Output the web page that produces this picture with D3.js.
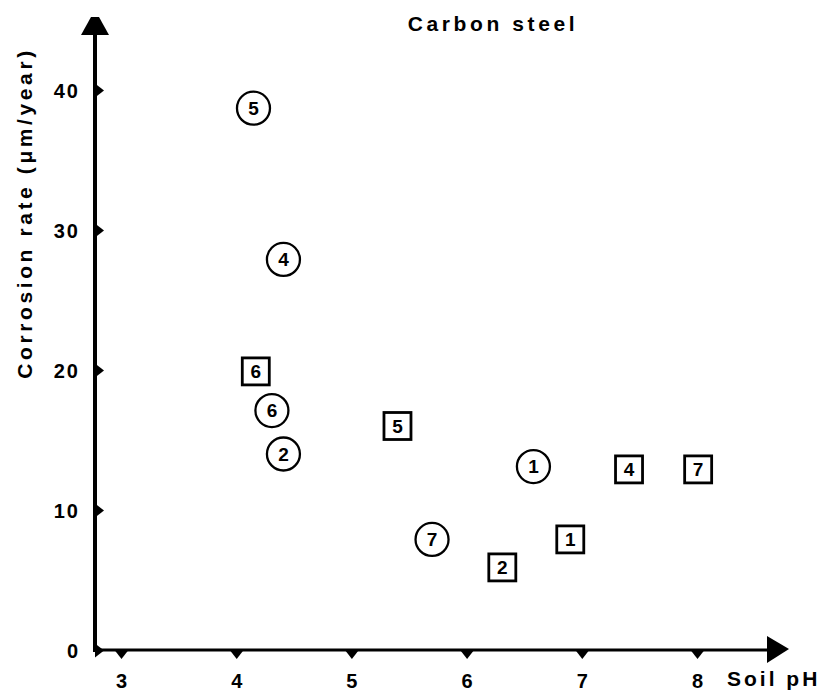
<!DOCTYPE html>
<html><head><meta charset="utf-8">
<script src="https://cdn.jsdelivr.net/npm/d3@7"></script>
<style>body{margin:0;background:#fff}svg{display:block}</style>
</head><body>
<script>
// Data
const circleLabels = ["1","2","4","5","6","7"];
const circlePH     = [6.58, 4.41, 4.41, 4.15, 4.31, 5.70];
const circleRate   = [13.1, 14.0, 27.9, 38.7, 17.1, 7.9];
const squareLabels = ["1","2","4","5","6","7"];
const squarePH     = [6.90, 6.31, 7.41, 5.40, 4.17, 8.01];
const squareRate   = [7.9, 5.9, 12.9, 16.0, 19.9, 12.9];
const xTicks = [3,4,5,6,7,8];
const yTicks = [0,10,20,30,40];
const title = "Carbon steel";
const xTitle = "Soil pH";
const yTitle = "Corrosion rate  (\u03bcm/year)";

const W = 827, H = 692;
const svg = d3.select("body").append("svg").attr("width", W).attr("height", H);
const font = "'Liberation Sans', Arial, Helvetica, sans-serif";

const x = d3.scaleLinear().domain([3,8]).range([121,697]);
const y = d3.scaleLinear().domain([0,40]).range([650,90]);
const x0 = 95, y0 = 650;

// Axis lines
svg.append("line").attr("x1", x0).attr("x2", x0).attr("y1", y0+2).attr("y2", 32)
  .attr("stroke", "#000").attr("stroke-width", 4);
svg.append("path").attr("d", `M${x0-14},35 L${x0+14},35 L${x0+4},17 L${x0-4},17 Z`).attr("fill","#000");
svg.append("line").attr("x1", x0-2).attr("x2", 770).attr("y1", y0).attr("y2", y0)
  .attr("stroke", "#000").attr("stroke-width", 3.2);
svg.append("path").attr("d", `M767,${y0-14} L767,${y0+13} L789,${y0-1} Z`).attr("fill","#000");

// X axis ticks
const gx = svg.append("g").attr("transform", `translate(0,${y0})`)
  .call(d3.axisBottom(x).tickValues(xTicks).tickSize(0).tickPadding(0).tickFormat(d3.format("d")));
gx.select(".domain").remove();
gx.selectAll(".tick text").attr("font-family", font).attr("font-size", 20).attr("fill","#000")
  .attr("font-weight","bold").attr("dy", null).attr("y", 38);
gx.selectAll(".tick").append("path").attr("d","M-7,0 L7,0 L0,9 Z").attr("fill","#000");

// Y axis ticks
const gy = svg.append("g").attr("transform", `translate(${x0},0)`)
  .call(d3.axisLeft(y).tickValues(yTicks).tickSize(0).tickPadding(15).tickFormat(d3.format("d")));
gy.select(".domain").remove();
gy.selectAll(".tick text").attr("font-family", font).attr("font-size", 20).attr("fill","#000")
  .attr("font-weight","bold").attr("letter-spacing", 2).attr("dy","0.36em");
gy.selectAll(".tick").append("path").attr("d","M0,-7 L0,7 L9,0 Z").attr("fill","#000");

// Titles
svg.append("text").attr("x", 493).attr("y", 31).attr("text-anchor","middle")
  .attr("font-family", font).attr("font-size", 21).attr("font-weight","bold")
  .attr("letter-spacing", 3.6).text(title);
svg.append("text").attr("x", 727).attr("y", 686).attr("font-family", font)
  .attr("font-size", 21).attr("font-weight","bold").attr("letter-spacing", 3).text(xTitle);
svg.append("text").attr("transform","translate(32,213) rotate(-90)").attr("text-anchor","middle")
  .attr("font-family", font).attr("font-size", 21).attr("font-weight","bold")
  .attr("letter-spacing", 3.6).text(yTitle);

// Circles
const cData = circleLabels.map((l,i)=>({l, px:circlePH[i], r:circleRate[i]}));
const cg = svg.append("g").selectAll("g").data(cData).join("g")
  .attr("transform", d=>`translate(${x(d.px)},${y(d.r)})`);
cg.append("circle").attr("r", 16.5).attr("fill","#fff").attr("stroke","#000").attr("stroke-width",2.3);
cg.append("text").attr("text-anchor","middle").attr("dy","0.36em").attr("font-family",font)
  .attr("font-size",19).attr("font-weight","bold").text(d=>d.l);

// Squares
const sData = squareLabels.map((l,i)=>({l, px:squarePH[i], r:squareRate[i]}));
const sg = svg.append("g").selectAll("g").data(sData).join("g")
  .attr("transform", d=>`translate(${x(d.px)},${y(d.r)})`);
sg.append("rect").attr("x",-13.5).attr("y",-13.5).attr("width",27).attr("height",27)
  .attr("fill","#fff").attr("stroke","#000").attr("stroke-width",2.8);
sg.append("text").attr("text-anchor","middle").attr("dy","0.36em").attr("font-family",font)
  .attr("font-size",19).attr("font-weight","bold").text(d=>d.l);
</script>
</body></html>
